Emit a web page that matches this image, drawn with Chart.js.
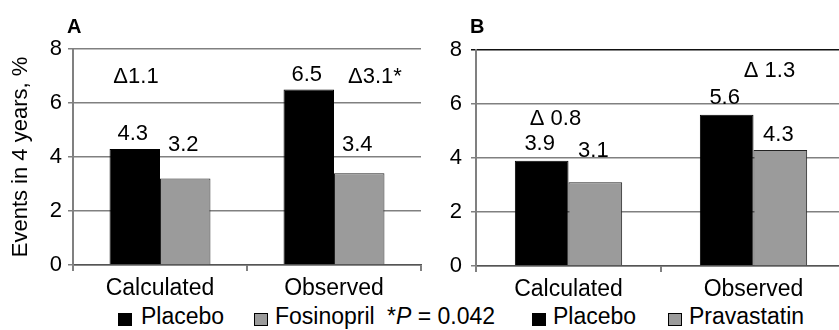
<!DOCTYPE html>
<html>
<head>
<meta charset="utf-8">
<script src="https://cdn.jsdelivr.net/npm/chart.js@4.4.1/dist/chart.umd.min.js"></script>
<style>
  html, body { margin: 0; padding: 0; background: #fff; overflow: hidden; }
  #wrap { position: relative; width: 839px; height: 330px; overflow: hidden; }
  canvas { position: absolute; top: 0; }
  #chartA { left: 0; }
  #chartB { left: 420px; }
  .lg { position: absolute; top: 305px; font: 23px "Liberation Sans", Arial, sans-serif; line-height: 23px; color: #000; white-space: nowrap; }
  .bx { position: absolute; top: 313px; width: 12px; height: 11px; border: 1px solid #000; }
</style>
</head>
<body>
<div id="wrap">
  <canvas id="chartA" width="430" height="300"></canvas>
  <canvas id="chartB" width="430" height="300"></canvas>

  <div class="bx" style="left:118px;background:#000"></div>
  <div class="lg" style="left:141px">Placebo</div>
  <div class="bx" style="left:254px;background:#9b9b9b"></div>
  <div class="lg" style="left:275px">Fosinopril</div>
  <div class="lg" style="left:387px">*<i>P</i> = 0.042</div>
  <div class="bx" style="left:532px;background:#000"></div>
  <div class="lg" style="left:553px">Placebo</div>
  <div class="bx" style="left:668px;background:#9b9b9b"></div>
  <div class="lg" style="left:689px">Pravastatin</div>
</div>

<script>
// data
const categories = ['Calculated', 'Observed'];
const yTicks = [0, 2, 4, 6, 8];

const placeboA = [4.3, 6.5];
const fosinopril = [3.2, 3.4];
const deltasA = ['\u03941.1', '\u03943.1*'];

const placeboB = [3.9, 5.6];
const pravastatin = [3.1, 4.3];
const deltasB = ['\u0394 0.8', '\u0394 1.3'];

const FONT = '"Liberation Sans", Arial, sans-serif';
const GRID = '#808080';

// draws the panel letter, value labels above bars and the delta notes
const textPlugin = {
  id: 'panelText',
  afterDatasetsDraw(chart, args, opts) {
    const ctx = chart.ctx;
    const area = chart.chartArea;
    const x = chart.scales.x;
    const y = chart.scales.y;
    ctx.save();
    ctx.fillStyle = '#000';

    ctx.font = 'bold 20px ' + FONT;
    ctx.textAlign = 'left';
    ctx.textBaseline = 'alphabetic';
    ctx.fillText(opts.letter, area.left + opts.letterDx, 33);

    ctx.font = '22px ' + FONT;
    ctx.textAlign = 'center';
    chart.data.datasets.forEach((ds, di) => {
      chart.getDatasetMeta(di).data.forEach((bar, i) => {
        ctx.fillText(ds.data[i].toFixed(1), bar.x - 2, bar.y + opts.labelDy[di][i]);
      });
    });

    opts.deltas.forEach((txt, i) => {
      ctx.fillText(txt, x.getPixelForValue(i) + opts.deltaDx[i], y.getPixelForValue(opts.deltaY[i]));
    });
    ctx.restore();
  }
};

function makeChart(id, set1, set2, names, yWidth, padRight, padTop, xHeight, showTitle, textOpts, topDark) {
  return new Chart(document.getElementById(id), {
    type: 'bar',
    data: {
      labels: categories,
      datasets: [
        { label: names[0], data: set1, backgroundColor: '#000', borderColor: '#000', borderWidth: 1,
          categoryPercentage: 0.58, barPercentage: 1.0 },
        { label: names[1], data: set2, backgroundColor: '#9b9b9b', borderColor: '#222', borderWidth: 1,
          categoryPercentage: 0.58, barPercentage: 1.0 }
      ]
    },
    options: {
      responsive: false,
      animation: false,
      layout: { padding: { left: 0, right: padRight, top: padTop, bottom: 0 } },
      plugins: {
        legend: { display: false },
        tooltip: { enabled: false },
        panelText: textOpts
      },
      scales: {
        x: {
          grid: { display: true, drawOnChartArea: false, drawTicks: true, tickLength: 6, color: GRID, lineWidth: 2 },
          border: { display: true, color: '#555', width: 1.5 },
          ticks: { color: '#000', padding: 4, font: { family: FONT, size: 23 } },
          afterFit(scale) { scale.height = xHeight; }
        },
        y: {
          min: 0,
          max: 8,
          afterBuildTicks(scale) { scale.ticks = yTicks.map(v => ({ value: v })); },
          grid: {
            color: ctx => (topDark && ctx.tick && ctx.tick.value === 8) ? '#111' : GRID,
            lineWidth: 1.5,
            tickLength: 5
          },
          border: { display: true, color: GRID, width: 2 },
          ticks: { color: '#000', padding: showTitle ? 6 : 9, font: { family: FONT, size: 22 } },
          title: {
            display: showTitle,
            text: 'Events in 4 years, %',
            color: '#000',
            font: { family: FONT, size: 22 },
            padding: { top: 8, bottom: 0 }
          },
          afterFit(scale) { scale.width = yWidth; }
        }
      }
    },
    plugins: [textPlugin]
  });
}

makeChart('chartA', placeboA, fosinopril, ['Placebo', 'Fosinopril'], 73, 9, 49, 35, true, {
  letter: 'A', letterDx: -6,
  labelDy: [[-9, -9], [-28, -22]],
  deltas: deltasA, deltaDx: [-24, 41], deltaY: [6.74, 6.74]
}, false);

makeChart('chartB', placeboB, pravastatin, ['Placebo', 'Pravastatin'], 56, 4, 50, 34, false, {
  letter: 'B', letterDx: -6,
  labelDy: [[-11, -11], [-25, -9]],
  deltas: deltasB, deltaDx: [-13, 16], deltaY: [5.22, 7.0]
}, true);
</script>
</body>
</html>
